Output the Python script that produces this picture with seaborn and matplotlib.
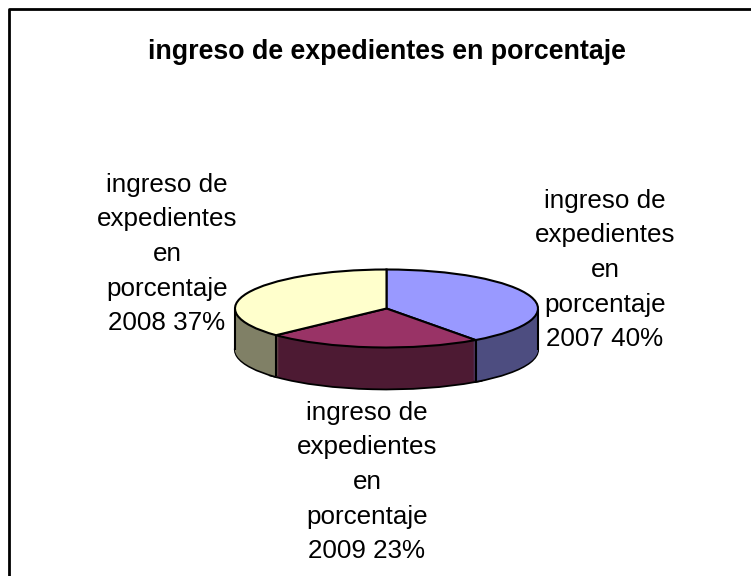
import matplotlib
matplotlib.use("Agg")
import numpy as np
import seaborn as sns
import matplotlib.pyplot as plt

# data, clockwise from 12 o'clock
values = [40, 23, 37]
years = ["2007", "2009", "2008"]
top_colors = ["#9999FF", "#993366", "#FFFFCC"]
side_colors = ["#4D4D80", "#4D1A33", "#808066"]
label_text = "ingreso de\nexpedientes\nen\nporcentaje\n{} {}%"
title = "ingreso de expedientes en porcentaje"

W, H = 751, 576
sns.set_theme(style="white")
plt.rcParams["font.family"] = ["Liberation Sans", "DejaVu Sans"]

fig = plt.figure(figsize=(W / 100, H / 100), dpi=100, facecolor="white")

# frame: only left and top sides show in the picture
frame = fig.add_axes([0, 0, 1, 1])
frame.set_xlim(0, W)
frame.set_ylim(H, 0)
frame.axis("off")
frame.plot([9, 9, W + 5], [H + 5, 9, 9], color="black", lw=2.0, clip_on=False)

# axes in pixel units, stretched so the pie comes out as a flat ellipse
cx, cy, rx, ry = 386.5, 308.5, 151.5, 39
wall = 41
ax = fig.add_axes([(cx - rx - 3) / W, 1 - (cy + ry + wall + 3) / H,
                   (2 * rx + 6) / W, (2 * ry + wall + 6) / H])
depth = wall / ry
pie_args = dict(startangle=90, counterclock=False, frame=True)
edge = dict(edgecolor="black", linewidth=1.5)

# lower outline of the wall, thick because the stack covers its inner half
ax.pie(values, colors=side_colors, center=(0, -depth), radius=1 - 1 / rx,
       wedgeprops=dict(edgecolor="black", linewidth=3), **pie_args)

# side wall: stack of shifted pies
for d in np.linspace(depth, 0, wall + 1):
    ax.pie(values, colors=side_colors, center=(0, -d),
           wedgeprops=dict(edgecolor="none", linewidth=0), **pie_args)

# wall edges at the silhouette and at the slice boundaries in front
angles = 2 * np.pi * np.cumsum(values) / sum(values)
front = [a for a in angles if np.cos(a) < 0]
xs = [-1, 1] + [np.sin(a) for a in front]
tops = [0, 0] + [np.cos(a) for a in front]
ax.vlines(xs, np.array(tops) - depth, tops, color="black", lw=1.5, zorder=5)

# top face
ax.pie(values, colors=top_colors, center=(0, 0), wedgeprops=edge, **pie_args)
for w in ax.patches[-3:]:
    w.set_zorder(6)

ax.set_xlim(-1 - 3 / rx, 1 + 3 / rx)
ax.set_ylim(-1 - depth - 3 / ry, 1 + 3 / ry)
ax.set_aspect("auto")
ax.axis("off")

frame.set_zorder(3)
frame.text(387, 52, title, ha="center", va="center", fontsize=19.3, fontweight="bold", color="black")
label_pos = [(605, 270), (367, 482), (167, 254)]
for (x, y), yr, v in zip(label_pos, years, values):
    frame.text(x, y, label_text.format(yr, v), ha="center", va="center",
               fontsize=18.7, linespacing=1.56, color="black")

fig.savefig("out.png", dpi=100)
